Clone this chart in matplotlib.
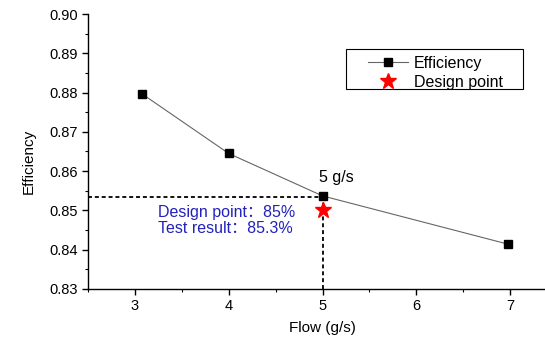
import matplotlib
matplotlib.use("Agg")
import matplotlib.pyplot as plt
from matplotlib.ticker import MultipleLocator, FormatStrFormatter
from matplotlib.patches import Rectangle

plt.rcParams['font.family'] = ['Liberation Sans', 'Noto Sans CJK SC', 'DejaVu Sans']

flow = [3.08, 4.0, 5.0, 6.98]
efficiency = [0.8796, 0.8645, 0.8537, 0.8414]
design_flow = [5.0]
design_eff = [0.850]
test_result = 0.8535
x_ticks = [3, 4, 5, 6, 7]
y_ticks = [0.83, 0.84, 0.85, 0.86, 0.87, 0.88, 0.89, 0.90]
label_5 = "5 g/s"
note_lines = ["Design point\uff1a85%", "Test result\uff1a85.3%"]

W, H = 545, 339
fig = plt.figure(figsize=(W / 100, H / 100), dpi=100)
left, right, top, bottom = 88, 557, 14, 289
ax = fig.add_axes([left / W, 1 - bottom / H, (right - left) / W, (bottom - top) / H])

ax.set_xlim(2.5, 7.5)
ax.set_ylim(0.83, 0.90)

ax.plot(flow, efficiency, color='#666666', lw=0.8, marker='s', markersize=5.2,
        markerfacecolor='black', markeredgecolor='black', label='Efficiency', zorder=3)
ax.plot(design_flow, design_eff, linestyle='none', marker='*', markersize=12,
        color='red', markeredgecolor='red', label='Design point', zorder=4)

dash = (0, (2.2, 1.6))
ax.plot([2.5, design_flow[0]], [test_result, test_result], color='black', lw=1.3,
        linestyle=dash, zorder=2)
ax.plot([design_flow[0], design_flow[0]], [0.83, test_result], color='black', lw=1.3,
        linestyle=dash, zorder=2)

ax.text(5.15, 0.8583, label_5, ha='center', va='center', fontsize=11.5, color='black')
ax.text(3.245, 0.8496, note_lines[0], ha='left', va='center', fontsize=11.5, color='#2222bb')
ax.text(3.245, 0.8453, note_lines[1], ha='left', va='center', fontsize=11.5, color='#2222bb')

for s in ['top', 'right']:
    ax.spines[s].set_visible(False)
for s in ['left', 'bottom']:
    ax.spines[s].set_linewidth(1.0)

ax.set_xticks(x_ticks)
ax.set_yticks(y_ticks)
ax.yaxis.set_major_formatter(FormatStrFormatter('%.2f'))
ax.xaxis.set_minor_locator(MultipleLocator(0.5))
ax.yaxis.set_minor_locator(MultipleLocator(0.005))
ax.tick_params(which='major', direction='out', length=4, width=1.0, labelsize=10.5, pad=3)
ax.tick_params(which='minor', direction='out', length=2.2, width=0.8)

ax.set_xlabel('Flow (g/s)', fontsize=11)
ax.set_ylabel('Efficiency', fontsize=11)
ax.xaxis.set_label_coords(0.5, (289 - 321) / 275)
ax.yaxis.set_label_coords((36 - 88) / 469, 0.5 - 10 / 275)

leg = fig.legend(loc='upper left', bbox_to_anchor=(368 / W, 1 - 56 / H), borderaxespad=0,
                 fontsize=11.5, frameon=False, borderpad=0,
                 handlelength=2.5, labelspacing=0.25, handletextpad=0.35)
fig.patches.append(Rectangle((346 / W, 1 - 89 / H), (523 - 346) / W, 40 / H,
                             transform=fig.transFigure, fill=False, edgecolor='black',
                             linewidth=0.8))

fig.savefig('out.png', dpi=100)
